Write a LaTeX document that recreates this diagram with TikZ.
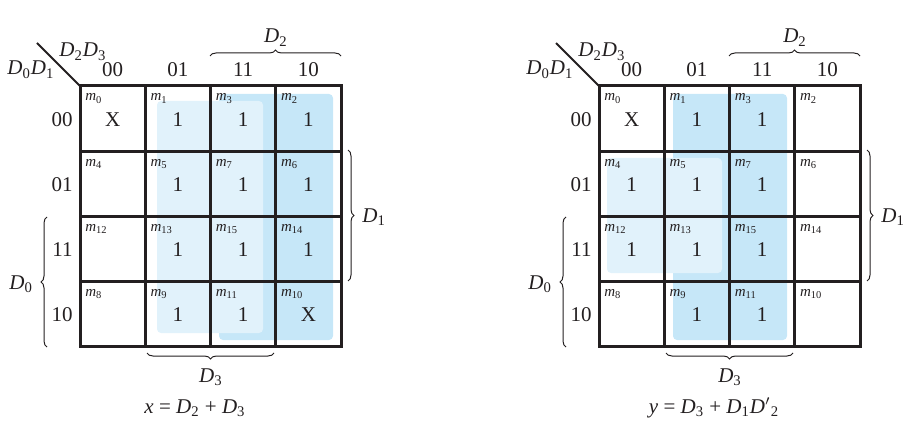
\documentclass[tikz,border=0pt]{standalone}
\usepackage{fontspec}
\setmainfont{Liberation Serif}
\usetikzlibrary{decorations.pathreplacing}
\definecolor{ink}{HTML}{231F20}
\definecolor{hidark}{HTML}{C6E7F8}
\definecolor{hilight}{HTML}{E1F2FB}
\newcommand\Dv[1]{\textit{D}\textsubscript{#1}}
\newcommand\mt[1]{\textit{m}\textsubscript{#1}}
\begin{document}
\begin{tikzpicture}[x=0.5pt,y=-0.5pt,
  gridline/.style={draw=ink,line width=1.5pt},
  diagline/.style={draw=ink,line width=1pt},
  val/.style={font=\fontsize{10.5}{12}\selectfont,text=ink,inner sep=0pt,anchor=base},
  hdr/.style={font=\fontsize{10.5}{12}\selectfont,text=ink,inner sep=0pt},
  mlab/.style={font=\fontsize{7.5}{8}\selectfont,text=ink,inner sep=0pt,anchor=base west},
  bracedec/.style={draw=ink,line width=0.5pt,decorate,decoration={brace,amplitude=3pt}},
  hldark/.style={fill=hidark,rounded corners=2pt},
  hllight/.style={fill=hilight,rounded corners=2pt}]
\useasboundingbox (0,0) rectangle (924,427);

% highlights (left map)
\path[hldark]  (219,94) rectangle (333,340);
\path[hllight] (157,101) rectangle (263,333);
% highlights (right map)
\path[hldark]  (673,94) rectangle (787,340);
\path[hllight] (607,158) rectangle (722,273);

\foreach \sx/\p in {0/L,519/R}{
\begin{scope}[shift={(\sx,0)}]
  % grid
  \draw[gridline] (80,86) rectangle (341,346.8);
  \foreach \i in {1,2,3}{
    \draw[gridline] ({80+\i*65.25},86) -- ({80+\i*65.25},346.8);
    \draw[gridline] (80,{86+\i*65.2}) -- (341,{86+\i*65.2});
  }
  % diagonal
  \coordinate (\p-corner) at (80,86);
  \coordinate (\p-diagend) at (37,43);
  \draw[diagline] (\p-diagend) -- (\p-corner);
  \node[hdr,anchor=base west] (\p-colvar) at (59,57) {\Dv{2}\Dv{3}};
  \node[hdr,anchor=base west] (\p-rowvar) at (7,75) {\Dv{0}\Dv{1}};
  % column headers
  \foreach \c/\t in {0/00,1/01,2/11,3/10}{
    \node[hdr,anchor=base] (\p-col\c) at ({80+65.25*(\c+0.5)},77) {\t};
  }
  % row headers
  \foreach \r/\t in {0/00,1/01,2/11,3/10}{
    \node[hdr,anchor=base east] (\p-row\r) at (73,{86+65.2*(\r+0.5)+7.5}) {\t};
  }
  % minterm labels
  \foreach \r/\a/\b/\cc/\d in {0/0/1/3/2,1/4/5/7/6,2/12/13/15/14,3/8/9/11/10}{
    \foreach \c/\m in {0/\a,1/\b,2/\cc,3/\d}{
      \node[mlab] (\p-m\m) at ({80+65.25*\c+5},{86+65.2*\r+15}) {\mt{\m}};
    }
  }
  % braces
  \coordinate (\p-b2a) at (210,56);
  \coordinate (\p-b2b) at (341,56);
  \draw[bracedec] (\p-b2a) -- (\p-b2b);
  \node[hdr,anchor=base] (\p-D2) at (276,43) {\Dv{2}};
  \coordinate (\p-b1a) at (348,150);
  \coordinate (\p-b1b) at (348,281);
  \draw[bracedec] (\p-b1a) -- (\p-b1b);
  \node[hdr,anchor=base west] (\p-D1) at (362,222) {\Dv{1}};
  \coordinate (\p-b0a) at (47,347);
  \coordinate (\p-b0b) at (47,217);
  \draw[bracedec] (\p-b0a) -- (\p-b0b);
  \node[hdr,anchor=base west] (\p-D0) at (9,289) {\Dv{0}};
  \coordinate (\p-b3a) at (274,353);
  \coordinate (\p-b3b) at (147,353);
  \draw[bracedec] (\p-b3a) -- (\p-b3b);
  \node[hdr,anchor=base] (\p-D3) at (211,382) {\Dv{3}};
\end{scope}
}

% values, left map
\foreach \r/\c/\v in {0/0/X,0/1/1,0/2/1,0/3/1,1/1/1,1/2/1,1/3/1,2/1/1,2/2/1,2/3/1,3/1/1,3/2/1,3/3/X}{
  \node[val] (L-v\r\c) at ({80+65.25*(\c+0.5)},{86+65.2*(\r+0.5)+7.5}) {\v};
}
% values, right map
\foreach \r/\c/\v in {0/0/X,0/1/1,0/2/1,1/0/1,1/1/1,1/2/1,2/0/1,2/1/1,2/2/1,3/1/1,3/2/1}{
  \node[val] (R-v\r\c) at ({599+65.25*(\c+0.5)},{86+65.2*(\r+0.5)+7.5}) {\v};
}

% equations
\node[hdr,anchor=base] (L-eq) at (195,413) {\textit{x} = \Dv{2} + \Dv{3}};
\node[hdr,anchor=base] (R-eq) at (714,413) {\textit{y} = \Dv{3} + \Dv{1}\textit{D}$'$\textsubscript{2}};
\end{tikzpicture}
\end{document}
